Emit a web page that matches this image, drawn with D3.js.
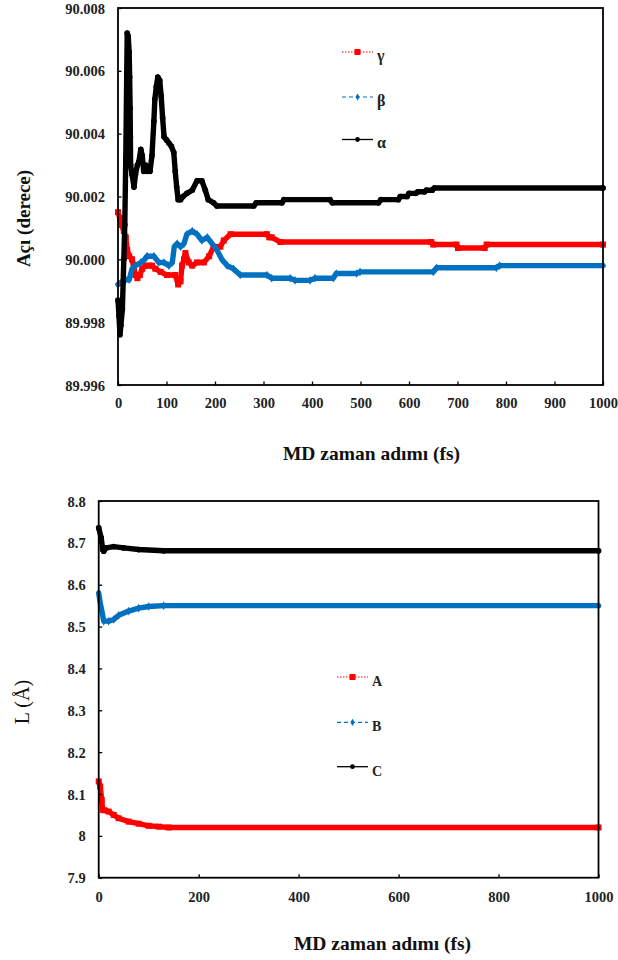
<!DOCTYPE html>
<html><head><meta charset="utf-8">
<script src="https://cdn.jsdelivr.net/npm/d3@7"></script>
<style>
body{margin:0;background:#fff}
svg{display:block}
text{font-family:"Liberation Serif","Times New Roman",serif}
</style>
</head><body>
<svg id="c" width="618" height="960"></svg>
<script>
// ---------- DATA (time in fs, value) ----------
// Top chart: lattice angles (degrees)
const gammaData = [[0,90.0015],[4,90.0013],[7,90.0011],[12,90.0009],[16,90.0007],[19,90.0003],[23,90.0001],[29,90.0000],[33,89.9997],[36,89.9995],[40,89.9994],[45,89.9995],[50,89.9997],[57,89.9998],[64,89.9998],[70,89.9998],[77,89.9997],[88,89.9996],[101,89.9995],[118,89.9995],[124,89.9992],[129,89.9993],[132,89.9998],[136,90.0000],[139,90.0002],[146,89.9999],[153,89.9998],[163,89.9999],[177,89.9999],[188,90.0001],[197,90.0004],[211,90.0004],[218,90.0006],[232,90.0008],[307,90.0008],[312,90.0007],[317,90.0007],[335,90.00055],[646,90.00055],[650,90.00047],[698,90.00047],[701,90.00036],[756,90.00036],[760,90.00047],[1000,90.00047]];
const betaData = [[0,89.9992],[9,89.9993],[16,89.99935],[23,89.99935],[29,89.9997],[36,89.9998],[47,89.9999],[55,90.0000],[60,90.0001],[74,90.0001],[84,89.9999],[95,89.9999],[105,89.9998],[112,89.9999],[116,90.0004],[122,90.0005],[129,90.0004],[136,90.0005],[142,90.0008],[153,90.0009],[163,90.0008],[173,90.0006],[184,90.0007],[194,90.0005],[204,90.0003],[214,90.0000],[225,89.9998],[238,89.9997],[252,89.9995],[307,89.9995],[317,89.9994],[355,89.9994],[365,89.99933],[396,89.99933],[406,89.9994],[444,89.9994],[450,89.99955],[492,89.99955],[499,89.9996],[650,89.9996],[657,89.99973],[780,89.99973],[787,89.9998],[1000,89.9998]];
const alphaData = [[0,89.9987],[2,89.9982],[4,89.9976],[6,89.9979],[9,89.9984],[12,90.0000],[14,90.0011],[16,90.0032],[18,90.0059],[19,90.0072],[21,90.0071],[23,90.0066],[24,90.0058],[25,90.0048],[25.5,90.0039],[26,90.0030],[29,90.0027],[33,90.0023],[36,90.0027],[40,90.0030],[43,90.0031],[47,90.0035],[50,90.0033],[53,90.0028],[57,90.0030],[60,90.0028],[66,90.0028],[70,90.0033],[74,90.0044],[76,90.0051],[79,90.0055],[82,90.0058],[86,90.0057],[89,90.0052],[92,90.0045],[95,90.0039],[100,90.0038],[105,90.0037],[110,90.0036],[115,90.0034],[118,90.0028],[121,90.0023],[124,90.0019],[129,90.0019],[134,90.0020],[142,90.0021],[153,90.0022],[163,90.0025],[173,90.0025],[180,90.0022],[186,90.0019],[197,90.0018],[204,90.0017],[280,90.0017],[285,90.0018],[338,90.0018],[342,90.0019],[437,90.0019],[442,90.0018],[537,90.0018],[542,90.0019],[578,90.0019],[582,90.0020],[596,90.0020],[600,90.0021],[614,90.0021],[618,90.00215],[632,90.00215],[636,90.0022],[648,90.0022],[652,90.00227],[1000,90.00227]];
// Bottom chart: lattice lengths (Å)
const aData = [[0,8.130],[3,8.118],[6,8.086],[8,8.062],[12,8.061],[20,8.058],[30,8.050],[40,8.042],[60,8.034],[80,8.029],[100,8.024],[120,8.022],[140,8.020],[1000,8.020]];
const bData = [[0,8.580],[3,8.557],[7,8.533],[10,8.513],[20,8.513],[30,8.517],[40,8.527],[60,8.537],[80,8.544],[100,8.548],[130,8.550],[1000,8.550]];
const cData = [[0,8.736],[5,8.712],[8,8.684],[10,8.680],[15,8.688],[30,8.691],[50,8.688],[80,8.684],[130,8.681],[1000,8.681]];

// Ticks / labels
const topXTicks = [0,100,200,300,400,500,600,700,800,900,1000];
const topYTicks = [89.996,89.998,90.000,90.002,90.004,90.006,90.008];
const botXTicks = [0,200,400,600,800,1000];
const botYTicks = [7.9,8.0,8.1,8.2,8.3,8.4,8.5,8.6,8.7,8.8];
const botYLabels = ["7.9","8","8.1","8.2","8.3","8.4","8.5","8.6","8.7","8.8"];
const xTitle = "MD zaman adımı (fs)";
const topYTitle = "Açı (derece)";
const botYTitle = "L (Å)";
const topNames = ["γ","β","α"];
const botNames = ["A","B","C"];

// ---------- STYLES ----------
const RED = "#ff0000", BLUE = "#0070c0", BLACK = "#000000";
const seriesStyle = [
  {color: RED, marker: "square", dash: "1.5,1.5", lw: 1},
  {color: BLUE, marker: "diamond", dash: "4,3", lw: 1.2},
  {color: BLACK, marker: "circle", dash: null, lw: 1.3}
];

const svg = d3.select("#c");

function drawMarker(g, type, x, y, color, s) {
  if (type === "square") {
    g.append("rect").attr("x", x - s/2).attr("y", y - s/2).attr("width", s).attr("height", s).attr("fill", color);
  } else if (type === "diamond") {
    g.append("path").attr("d", d3.symbol(d3.symbolDiamond, s*s*0.6)()).attr("transform", `translate(${x},${y})`).attr("fill", color);
  } else {
    g.append("circle").attr("cx", x).attr("cy", y).attr("r", s/2.1).attr("fill", color);
  }
}

function drawChart(cfg) {
  const {left, top, right, bottom} = cfg.frame;
  const x = d3.scaleLinear().domain([0, 1000]).range([left, right]);
  const y = d3.scaleLinear().domain(cfg.yDomain).range([bottom, top]);
  const g = svg.append("g");

  // series
  cfg.series.forEach((data, i) => {
    const st = seriesStyle[i];
    const line = d3.line().x(d => x(d[0])).y(d => y(d[1]));
    g.append("path").datum(data).attr("d", line)
      .attr("fill", "none").attr("stroke", st.color).attr("stroke-width", cfg.band)
      .attr("stroke-linejoin", "round").attr("stroke-linecap", "round");
    const mg = g.append("g");
    data.forEach(d => drawMarker(mg, st.marker, x(d[0]), y(d[1]), st.color, cfg.msize));
  });

  // frame
  g.append("rect").attr("x", left).attr("y", top).attr("width", right - left).attr("height", bottom - top)
    .attr("fill", "none").attr("stroke", "#000").attr("stroke-width", 1.8);

  // axes
  const xa = g.append("g").attr("transform", `translate(0,${bottom})`)
    .call(d3.axisBottom(x).tickValues(cfg.xTicks).tickFormat(d3.format("d")).tickSize(-3.5).tickPadding(cfg.xPad));
  const ya = g.append("g").attr("transform", `translate(${left},0)`)
    .call(d3.axisLeft(y).tickValues(cfg.yTicks).tickFormat(cfg.yFmt).tickSize(-3.5).tickPadding(13));
  [xa, ya].forEach(a => {
    a.select(".domain").remove();
    a.selectAll("line").attr("stroke", "#000").attr("stroke-width", 1.3);
    a.selectAll("text").attr("font-family", '"Liberation Serif","Times New Roman",serif')
      .attr("font-size", 14.5).attr("font-weight", "bold").attr("fill", "#222");
  });
  ya.selectAll("text").attr("dy", "0.35em");

  // titles
  g.append("text").attr("x", cfg.xTitlePos[0]).attr("y", cfg.xTitlePos[1]).attr("dy", "0.35em")
    .attr("text-anchor", "middle").attr("font-size", 19.5).attr("font-weight", "bold").attr("fill", "#111").text(xTitle);
  g.append("text").attr("transform", `translate(${cfg.yTitlePos[0]},${cfg.yTitlePos[1]}) rotate(-90)`)
    .attr("dy", "0.35em").attr("text-anchor", "middle").attr("font-size", cfg.yTitleSize)
    .attr("font-weight", cfg.yTitleWeight).attr("fill", "#111").text(cfg.yTitle);

  // legend
  cfg.names.forEach((name, i) => {
    const st = seriesStyle[i];
    const ly = cfg.legend.ys[i];
    const lg = g.append("g");
    lg.append("line").attr("x1", cfg.legend.x1).attr("x2", cfg.legend.x2).attr("y1", ly).attr("y2", ly)
      .attr("stroke", st.color).attr("stroke-width", st.lw).attr("stroke-dasharray", st.dash);
    drawMarker(lg, st.marker, (cfg.legend.x1 + cfg.legend.x2) / 2, ly, st.color, cfg.legend.ms[i]);
    lg.append("text").attr("x", cfg.legend.x2 + 4).attr("y", ly + cfg.legend.dy).attr("dy", "0.35em")
      .attr("font-size", cfg.legend.fs).attr("font-weight", "bold").attr("fill", "#222").text(name);
  });
}

drawChart({
  frame: {left: 118, top: 8, right: 603, bottom: 385},
  yDomain: [89.996, 90.008],
  series: [gammaData, betaData, alphaData],
  xTicks: topXTicks, yTicks: topYTicks, yFmt: d3.format(".3f"), xPad: 13,
  band: 5.4, msize: 6,
  xTitlePos: [371.5, 453], yTitlePos: [23, 218.5], yTitle: topYTitle, yTitleSize: 19, yTitleWeight: "bold",
  names: topNames,
  legend: {x1: 342, x2: 373, ys: [52, 97, 139.5], dy: 3, fs: 16, ms: [6, 5, 5]}
});

drawChart({
  frame: {left: 98.7, top: 501, right: 598.5, bottom: 877.7},
  yDomain: [7.9, 8.8],
  series: [aData, bData, cData],
  xTicks: botXTicks, yTicks: botYTicks, yFmt: (d, i) => botYLabels[i], xPad: 14,
  band: 5.4, msize: 6,
  xTitlePos: [382.5, 943], yTitlePos: [22, 702], yTitle: botYTitle, yTitleSize: 20, yTitleWeight: "normal",
  names: botNames,
  legend: {x1: 337, x2: 368, ys: [677, 722.3, 766.7], dy: 4, fs: 14, ms: [6, 5, 5]}
});
</script>
</body></html>
